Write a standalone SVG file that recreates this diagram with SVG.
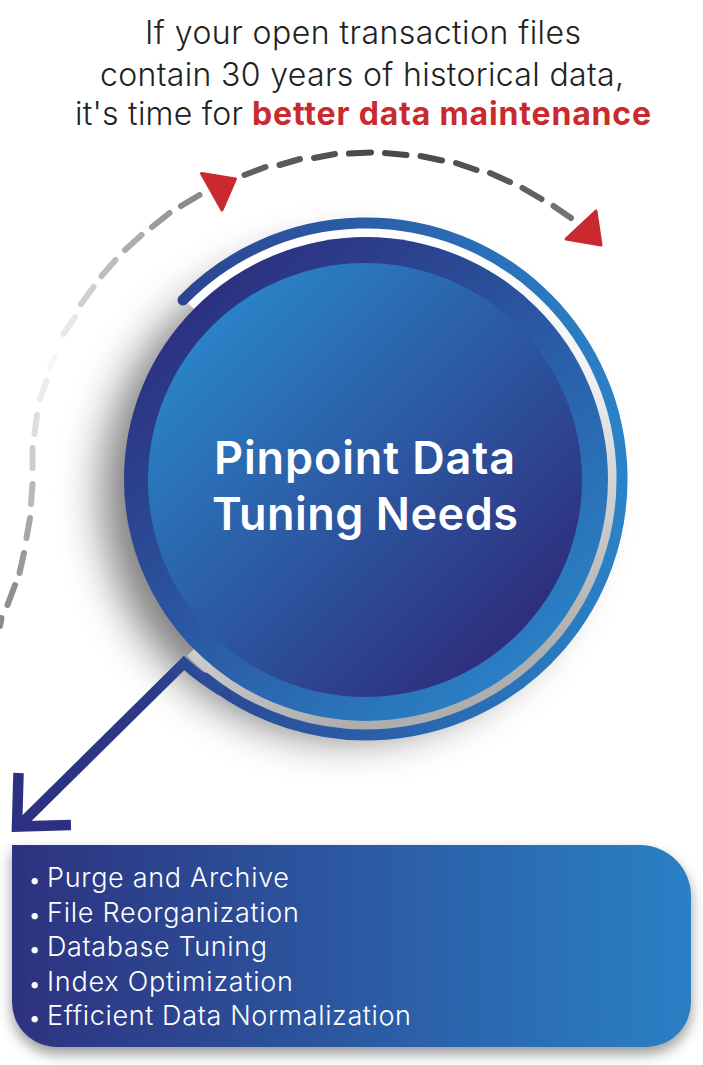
<svg xmlns="http://www.w3.org/2000/svg" width="703" height="1065" viewBox="0 0 703 1065">
<style>
.hd{font-family:"Inter","Liberation Sans",sans-serif;font-size:32px;font-weight:300;fill:#222}
.tt{font-family:"Inter","Liberation Sans",sans-serif;font-size:45px;font-weight:600;fill:#fff}
.li{font-family:"Inter","Liberation Sans",sans-serif;font-size:27px;font-weight:300;fill:#fff}
.bu{font-size:20px;font-weight:400}
.d{fill:none;stroke-width:6;stroke-linecap:round}
.tri{fill:#c92a2e;stroke:#c92a2e;stroke-width:3;stroke-linejoin:round}
</style>
<defs>
<linearGradient id="gInner" x1="0.15" y1="0.15" x2="0.85" y2="0.85"><stop offset="0" stop-color="#2a82c6"/><stop offset="1" stop-color="#2e2f7e"/></linearGradient>
<linearGradient id="gMid" x1="0.15" y1="0.1" x2="0.85" y2="0.9"><stop offset="0" stop-color="#2c2f7e"/><stop offset="1" stop-color="#2a82c7"/></linearGradient>
<linearGradient id="gOuter" gradientUnits="userSpaceOnUse" x1="110" y1="480" x2="620" y2="480"><stop offset="0" stop-color="#2c3a88"/><stop offset="1" stop-color="#2a82c7"/></linearGradient>
<linearGradient id="gShaft" gradientUnits="userSpaceOnUse" x1="20" y1="825" x2="225" y2="690"><stop offset="0" stop-color="#2c3080"/><stop offset="0.75" stop-color="#2c3a88"/><stop offset="1" stop-color="#2c4f9c"/></linearGradient>
<linearGradient id="gGap" gradientUnits="userSpaceOnUse" x1="330" y1="280" x2="470" y2="680"><stop offset="0" stop-color="#ffffff"/><stop offset="0.4" stop-color="#f2f2f4"/><stop offset="1" stop-color="#aeaeae"/></linearGradient>
<linearGradient id="gPanel" x1="0" y1="0" x2="1" y2="0"><stop offset="0" stop-color="#2d327f"/><stop offset="1" stop-color="#2a80c5"/></linearGradient>
<filter id="blur" x="-30%" y="-30%" width="160%" height="160%"><feGaussianBlur stdDeviation="22"/></filter>
<filter id="blurS" x="-10%" y="-30%" width="120%" height="160%"><feGaussianBlur stdDeviation="7"/></filter>
</defs>

<g id="heading">
<text class="hd" x="145" y="44" textLength="436">If your open transaction files</text>
<text class="hd" x="100" y="86" textLength="524">contain 30 years of historical data,</text>
<text class="hd" x="75" y="125" textLength="168">it's time for</text>
<text class="hd" x="252" y="125" style="font-weight:700;fill:#c92a2e" textLength="399">better data maintenance</text>
</g>

<g id="connectors">
<g id="dashes">
<path class="d" stroke="#8a8a8a" d="M1.500 618L0 626"/>
<path class="d" stroke="#8f8f8f" d="M15 585L7.500 605"/>
<path class="d" stroke="#999" d="M24 553L19.500 573"/>
<path class="d" stroke="#a6a6a6" d="M30 518L26.500 538"/>
<path class="d" stroke="#b8b8b8" d="M32.500 484L31 504"/>
<path class="d" stroke="#cdcdcd" d="M32.500 448L32.500 468"/>
<path class="d" stroke="#dedede" d="M37 415L34.500 434"/>
<path class="d" stroke="#ececec" d="M46.500 381L40 399"/>
<path class="d" stroke="#f6f6f6" d="M55 357L50 367"/>
<path class="d" stroke="#e8e8e8" d="M75 317L63.500 334"/>
<path class="d" stroke="#cfcfcf" d="M93.500 287L81 304"/>
<path class="d" stroke="#bdbdbd" d="M115.500 260L101.500 276"/>
<path class="d" stroke="#adadad" d="M141.500 235L125 250"/>
<path class="d" stroke="#9a9a9a" d="M169.500 213L152 227"/>
<path class="d" stroke="#8a8a8a" d="M199.500 195L181 206"/>
<path class="d" stroke="#5f5f5f" d="M244.500 175L265.500 167"/>
<path class="d" stroke="#595959" d="M279.500 165L300 159"/>
<path class="d" stroke="#525252" d="M314 158L335 154"/>
<path class="d" stroke="#4a4a4a" d="M349 153.500L371 152.500"/>
<path class="d" stroke="#484848" d="M385 153L406.500 155"/>
<path class="d" stroke="#4d4d4d" d="M420.500 156L442 160.500"/>
<path class="d" stroke="#525252" d="M456 163L476.500 170"/>
<path class="d" stroke="#585858" d="M490 173L510 182"/>
<path class="d" stroke="#606060" d="M522.500 188L541.500 199"/>
<path class="d" stroke="#737373" d="M553.500 206L571 218"/>
</g>
<polygon class="tri" points="201.500,173.500 235.500,179 222,210"/>
<polygon class="tri" points="596,211 566,239 601,245"/>
</g>

<g id="circle-node">
<circle cx="346" cy="494" r="244" fill="#000" opacity="0.5" filter="url(#blur)"/>
<path d="M191 306A246 246 0 1 1 191 652" fill="none" stroke="url(#gGap)" stroke-width="11"/>
<path d="M183 300A256 256 0 1 1 205 678" fill="none" stroke="url(#gOuter)" stroke-width="11" stroke-linecap="round"/>
<circle cx="366" cy="479" r="242" fill="url(#gMid)"/>
<circle cx="365" cy="480" r="217" fill="url(#gInner)"/>
<text class="tt" x="214" y="474" textLength="301">Pinpoint Data</text>
<text class="tt" x="212" y="530" textLength="306">Tuning Needs</text>
</g>

<g id="arrow">
<path d="M20 825L184 663A256 256 0 0 0 222 691" fill="none" stroke="url(#gShaft)" stroke-width="10.500" stroke-miterlimit="8"/>
<path d="M18.500 773L17 826.500L71 825" fill="none" stroke="#2c3080" stroke-width="10.500"/>
</g>

<g id="panel">
<path d="M12 845H640A51 51 0 0 1 691 896V1002A45 45 0 0 1 646 1047H57A45 45 0 0 1 12 1002Z" fill="#000" opacity="0.4" transform="translate(0,7)" filter="url(#blurS)"/>
<path d="M12 845H640A51 51 0 0 1 691 896V1002A45 45 0 0 1 646 1047H57A45 45 0 0 1 12 1002Z" fill="url(#gPanel)"/>
<text class="li" x="29" y="886.500"><tspan class="bu">•</tspan><tspan x="47" textLength="242">Purge and Archive</tspan></text>
<text class="li" x="29" y="921.500"><tspan class="bu">•</tspan><tspan x="47" textLength="252">File Reorganization</tspan></text>
<text class="li" x="29" y="955.500"><tspan class="bu">•</tspan><tspan x="47" textLength="220">Database Tuning</tspan></text>
<text class="li" x="29" y="990.500"><tspan class="bu">•</tspan><tspan x="47" textLength="246">Index Optimization</tspan></text>
<text class="li" x="29" y="1024.500"><tspan class="bu">•</tspan><tspan x="47" textLength="364">Efficient Data Normalization</tspan></text>
</g>
</svg>
